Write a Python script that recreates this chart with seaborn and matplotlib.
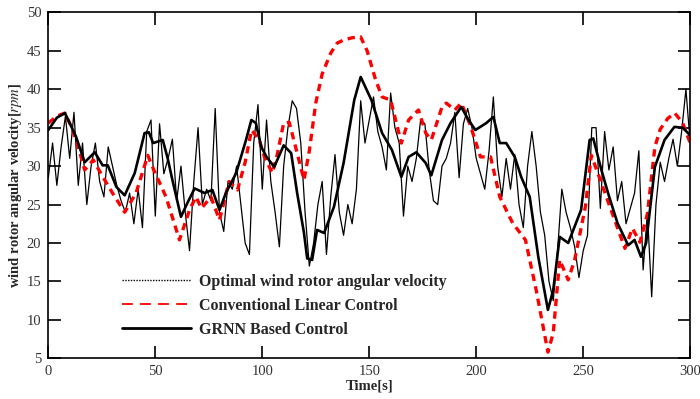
import numpy as np
import pandas as pd
import seaborn as sns
import matplotlib.pyplot as plt
from matplotlib.lines import Line2D

# optimal wind rotor angular velocity (every 2 s)
t_opt = np.arange(0, 301, 2)
w_opt = [28.5, 33, 27.5, 32.5, 36.5, 31, 37, 27.5, 33, 25,
         30, 33, 28, 26, 32.5, 30, 27.5, 25.5, 24, 26.5,
         22.5, 27, 22, 34.5, 36, 23.5, 35.5, 29, 31, 33.5,
         25.5, 30, 24, 19, 28, 35, 25, 27, 25.5, 37.5,
         24, 21.5, 28, 27, 30, 25, 20, 18.5, 33, 38,
         27, 36, 28, 24, 19.5, 30, 35, 38.5, 37.5, 33,
         24, 17, 20, 25, 28, 18.5, 26, 31.5, 24, 21,
         25, 22.5, 27, 38.5, 33, 36, 39, 34.5, 32.5, 29.5,
         39.5, 35, 33, 23.5, 30, 28, 31, 36, 35.5, 29.5,
         25.5, 25, 30, 31, 33, 37, 28.5, 35.5, 37.5, 35,
         31, 29, 27, 32, 39, 30, 26, 31, 27, 31.5,
         25, 22, 30, 34.5, 30, 24, 21, 15, 12.5, 19,
         27, 24, 22, 19.5, 15.5, 19, 21, 35, 35, 24.5,
         34.5, 29.5, 32.5, 25.5, 28, 22.5, 24.5, 26.5, 32, 16.5,
         24, 13, 25, 30.5, 28, 31, 33.5, 30, 34.5, 40, 33]

# conventional linear control
t_lin = [0, 4, 7.7, 11, 14, 17, 21, 25.5, 30, 35.7, 41, 46.5, 49, 55, 61.3, 66, 69,
         71.6, 76, 80, 84.5, 88.4, 92, 95, 98.6, 101, 104.7, 107, 110, 112.6, 116.3,
         119.5, 122, 125, 128, 132, 135, 138, 142, 146, 149, 153, 156, 160, 165, 168.4,
         173, 176.4, 179, 184, 186, 190, 193, 197, 202, 206.7, 211, 217, 223, 228, 231,
         233.5, 236, 239, 243, 246, 251, 253.8, 258.5, 263, 269.5, 273, 276.5, 280,
         283.5, 286, 289.5, 292.8, 296.5, 300]
w_lin = [35.6, 36.5, 36.9, 35, 32.5, 29.5, 30.8, 28.6, 26.5, 24.0, 26.5, 31.4, 29.7, 26,
         20.4, 24.3, 26, 24.5, 26, 23, 28, 26.9, 30.5, 34.7, 33.4, 31.2, 29.1, 31.5,
         35.6, 35.7, 31.7, 28.2, 32, 38.2, 42, 44.7, 46, 46.4, 46.7, 46.8, 45, 41.2,
         39, 38.6, 33, 36, 37.3, 34.3, 33.4, 37.7, 38.2, 37.3, 38.2, 35.5, 31.2, 31.2,
         26, 22.6, 20.4, 13.9, 9.5, 5.8, 8.3, 17.8, 15.2, 17.8, 24.7, 31.4, 27.8, 24.3,
         19.3, 21.9, 20.1, 23.8, 32.5, 34.8, 36.2, 36.9, 35.6, 33]

# GRNN based control
t_grnn = [0, 4, 7.8, 13, 17, 21.7, 25.4, 27.8, 31.8, 35.7, 40.4, 45, 47, 49, 53.5, 55.8,
          58, 62, 65, 68.4, 73, 76.7, 80, 83, 87.8, 92.4, 94.9, 97, 99.5, 102, 105.6,
          110, 113.5, 116.3, 119.5, 121, 123.3, 125.6, 128.9, 133.5, 138, 143, 146,
          151, 156, 160.6, 165, 168.4, 172, 176.4, 179, 184, 188, 193, 196.4, 199.6,
          204.7, 208, 211, 214, 218, 221, 225, 229, 233.5, 236, 239, 243, 249, 253,
          254.7, 258.5, 261.6, 266, 271, 274, 277, 279.4, 283.5, 288, 292.6, 296.5, 300]
w_grnn = [34.7, 36.3, 36.9, 33.8, 30.5, 31.8, 30.1, 30.1, 27.3, 26.2, 29.1, 34.3, 34.4,
          33, 33.4, 31, 28.2, 23.4, 25.2, 27.1, 26.5, 26.9, 24.3, 26.5, 29.1, 33.4, 36,
          35.6, 32.5, 31.2, 29.9, 32.7, 31.7, 26.5, 21.3, 18, 17.8, 21.7, 21.3, 24.7,
          30.4, 38.6, 41.6, 38.6, 34.3, 32.1, 28.6, 31.2, 31.8, 30.4, 28.8, 33.4, 35.6,
          37.7, 36, 34.7, 35.6, 36.4, 33, 33, 31.2, 28.6, 26, 18.2, 11.3, 13.9, 20.8, 20,
          24.3, 33.4, 33.6, 29.5, 26.5, 22.6, 19.7, 20.4, 18.2, 20, 29.9, 33.4, 35.1, 35, 34]

labels = ['Optimal wind rotor angular velocity', 'Conventional Linear Control',
          'GRNN Based Control']

sns.set_style('ticks')
plt.rcParams['font.family'] = ['Liberation Serif', 'DejaVu Serif']
plt.rcParams['mathtext.fontset'] = 'stix'

fig = plt.figure(figsize=(7, 3.99), dpi=100)
ax = fig.add_axes([0.069, 0.102, 0.917, 0.867])

df_opt = pd.DataFrame({'t': t_opt, 'w': w_opt})
df_lin = pd.DataFrame({'t': t_lin, 'w': w_lin})
df_grnn = pd.DataFrame({'t': t_grnn, 'w': w_grnn})

sns.lineplot(data=df_opt, x='t', y='w', ax=ax, color='black', lw=0.9)
sns.lineplot(data=df_lin, x='t', y='w', ax=ax, color='#ff0000', lw=2.4,
             linestyle=(0, (2.2, 1.6)))
sns.lineplot(data=df_grnn, x='t', y='w', ax=ax, color='black', lw=1.9)

ax.set_xlim(0, 300)
ax.set_ylim(5, 50)
ax.set_xticks(range(0, 301, 50))
ax.set_yticks(range(5, 51, 5))
ax.tick_params(direction='in', length=9, width=1.2, top=True, right=True,
               labelsize=10.5, color='black', labelcolor='#333333', pad=5)
for s in ax.spines.values():
    s.set_linewidth(1.2)
    s.set_color('black')

ax.set_xlabel('Time[s]', fontsize=10.5, fontweight='bold', labelpad=1)
ax.set_ylabel(r'wind rotor angular velocity[$\mathit{rpm}$]', fontsize=10.5,
              fontweight='bold', labelpad=2)

handles = [Line2D([], [], color='black', lw=1, linestyle=(0, (1, 1))),
           Line2D([], [], color='#ff0000', lw=1.3, linestyle=(0, (6, 4))),
           Line2D([], [], color='black', lw=2)]
ax.legend(handles, labels, loc='lower left', bbox_to_anchor=(0.115, 0.06),
          frameon=False, borderpad=0, borderaxespad=0, handlelength=4.3,
          labelspacing=0.5, handletextpad=0.5,
          prop={'family': 'Liberation Serif', 'weight': 'bold', 'size': 11.5})

plt.savefig('out.png', dpi=100)
